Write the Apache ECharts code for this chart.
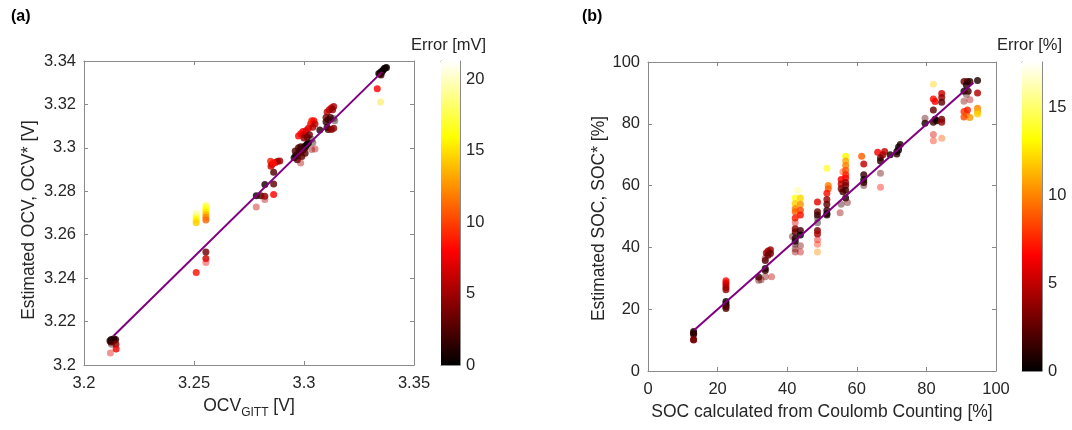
<!DOCTYPE html>
<html>
<head>
<meta charset="utf-8">
<script src="https://cdn.jsdelivr.net/npm/echarts@6/dist/echarts.min.js"></script>
<style>
html,body{margin:0;padding:0;background:#fff;}
#chart{width:1072px;height:430px;}
</style>
</head>
<body>
<div id="chart"></div>
<script>
// ---------- DATA ----------
// Panel (a): [OCV_GITT (V), estimated OCV* (V), error (mV)]
const ocvSolid = [
  [3.2118,3.2112,0.6],[3.2124,3.2118,0.6],[3.2130,3.2110,1.5],[3.2138,3.2113,1.8],[3.2144,3.2117,2.0],
  [3.2122,3.2106,1.6],[3.2135,3.2121,1.0],[3.2145,3.2095,4.5],[3.2146,3.2074,7.5],
  [3.2510,3.2695,18.5],[3.2510,3.2685,17.5],[3.2510,3.2675,16.5],[3.2510,3.2665,15.5],[3.2510,3.2655,14.5],[3.2510,3.2426,8.5],
  [3.2554,3.2733,17.5],[3.2554,3.2722,16.8],[3.2554,3.2712,16.0],[3.2554,3.2702,15.0],[3.2554,3.2692,13.8],
  [3.2554,3.2680,12.2],[3.2554,3.2668,11.2],[3.2554,3.2520,3.5],[3.2554,3.2490,6.5],
  [3.2783,3.2780,0.5],[3.2822,3.2831,0.9],[3.2804,3.2780,2.5],[3.2822,3.2777,4.5],[3.2862,3.2785,8.0],
  [3.2862,3.2834,3.0],[3.2862,3.2888,2.5],
  [3.2848,3.2938,9.0],[3.2855,3.2925,7.5],[3.2870,3.2932,6.5],[3.2880,3.2938,6.0],[3.2890,3.2940,5.0],
  [3.2850,3.2915,6.5],[3.2860,3.2930,8.5],
  [3.2955,3.2955,0.3],[3.2962,3.2965,0.4],[3.2970,3.2962,0.8],[3.2975,3.2978,0.4],[3.2980,3.2986,0.6],
  [3.2986,3.2980,0.7],[3.2990,3.2995,0.5],[3.2995,3.2990,0.6],[3.3000,3.3005,0.5],[3.3005,3.3000,0.6],
  [3.3010,3.3012,0.3],[3.3015,3.3018,0.4],[3.3020,3.3022,0.3],
  [3.2960,3.2985,2.5],[3.2975,3.3000,2.5],[3.2985,3.3005,2.0],[3.2970,3.2945,2.5],[3.2990,3.2960,3.0],[3.3005,3.2975,3.0],
  [3.2975,3.3055,8.0],[3.2985,3.3065,8.0],[3.2995,3.3075,8.0],[3.3000,3.3060,6.0],[3.3010,3.3080,7.0],
  [3.3020,3.3090,7.0],[3.3030,3.3110,8.0],[3.3035,3.3125,9.0],[3.3045,3.3125,8.0],[3.3050,3.3110,6.0],
  [3.3040,3.3095,5.5],[3.3000,3.3045,4.5],[3.3015,3.3050,3.5],[3.3025,3.3060,3.5],
  [3.3072,3.3082,1.0],
  [3.3105,3.3165,6.0],[3.3115,3.3175,6.0],[3.3125,3.3185,6.0],[3.3135,3.3190,5.5],[3.3130,3.3175,4.5],
  [3.3100,3.3140,4.0],[3.3110,3.3130,2.0],[3.3100,3.3120,2.0],[3.3120,3.3140,2.0],[3.3105,3.3095,1.0],
  [3.3110,3.3085,2.5],[3.3125,3.3085,4.0],[3.3135,3.3090,4.5],
  [3.3345,3.3340,0.5],[3.3350,3.3345,0.5],[3.3355,3.3352,0.3],[3.3360,3.3358,0.2],[3.3365,3.3365,0.2],
  [3.3370,3.3368,0.3],[3.3375,3.3370,0.5],[3.3350,3.3350,0.2],[3.3340,3.3342,0.3],[3.3350,3.3335,2.0],
  [3.3333,3.3272,8.0]
];
const ocvFaded = [
  [3.2125,3.2095,2.5],[3.2120,3.2055,7.0],[3.2510,3.2705,20.5],[3.2554,3.2472,8.0],
  [3.2822,3.2762,5.5],[3.2783,3.2728,6.0],[3.2985,3.2930,5.5],[3.3035,3.2993,4.5],[3.3050,3.2995,5.5],
  [3.3040,3.3025,1.5],[3.3035,3.3040,1.0],[3.3135,3.3135,0.5],[3.3140,3.3125,1.5],[3.3348,3.3211,15.0]
];
const ocvLine = [[3.2135,3.2135],[3.3355,3.3350]];
const ocvErrMax = 21.3;

// Panel (b): [SOC from Coulomb counting (%), estimated SOC* (%), error (%)]
const socSolid = [
  [13.1,12.8,0.3],[13.1,12.2,0.9],[13.1,11.8,1.3],[13.1,10.2,3.0],[13.1,10.0,3.1],
  [22.4,29.2,6.8],[22.4,28.5,6.1],[22.4,27.8,5.4],[22.4,27.0,4.6],[22.4,26.3,3.9],[22.4,22.5,0.2],
  [22.4,21.8,0.6],[22.4,21.2,1.2],[22.4,20.8,1.6],[22.4,20.2,2.2],
  [31.8,30.4,1.4],[33.7,33.2,0.5],[33.7,32.5,1.2],[33.7,35.8,2.1],[34.0,38.2,4.2],[34.5,38.8,4.3],
  [35.2,39.2,4.0],[35.2,38.0,2.8],[34.5,37.5,3.0],
  [42.3,56.0,13.7],[43.8,56.0,12.2],[42.3,54.2,12.0],[42.3,52.5,10.0],[42.3,51.5,9.2],[43.8,54.0,10.5],
  [43.8,52.0,8.5],[43.8,50.5,7.0],[42.3,49.5,7.2],[42.3,46.0,3.7],[42.3,45.0,2.7],[43.8,45.5,1.7],
  [43.8,44.0,0.2],[42.3,43.0,0.7],[42.3,42.0,0.3],
  [48.7,54.7,6.0],[48.7,51.5,2.8],[48.7,50.5,1.8],[48.7,45.5,3.2],[48.7,44.3,4.4],
  [51.4,65.6,14.2],[51.8,60.0,10.0],[51.8,59.0,9.0],[51.4,57.5,7.0],[51.4,55.5,4.0],[51.4,54.0,2.6],
  [51.4,52.0,1.5],[51.4,51.0,0.4],[51.4,50.5,0.9],
  [56.8,69.5,13.0],[56.8,68.0,11.0],[56.8,66.5,10.0],[56.8,65.0,9.0],[56.8,63.5,7.5],[56.8,62.5,6.7],
  [55.5,62.0,6.5],[55.5,60.5,5.0],[56.8,61.0,4.2],[56.8,60.0,3.2],[55.5,59.0,3.5],[56.8,58.5,1.7],
  [56.0,58.0,2.0],[56.8,56.0,0.8],
  [61.4,69.5,9.0],[62.0,67.0,5.0],[62.0,63.5,1.5],[62.0,62.0,0.5],[62.0,61.0,1.0],
  [66.0,70.8,6.5],[68.0,71.0,5.0],[67.5,70.0,4.5],[66.8,69.0,3.0],[66.8,68.0,1.2],
  [69.6,70.0,0.4],[71.5,70.2,1.3],[72.0,71.5,0.5],[72.0,72.5,0.5],[72.5,73.3,0.8],[71.5,71.0,0.5],
  [79.6,80.2,0.6],
  [82.0,88.0,7.0],[82.5,87.2,6.5],[82.0,84.5,2.5],[82.5,81.5,1.0],[82.0,80.5,1.5],[83.0,81.0,0.3],
  [84.4,89.8,5.4],[84.4,88.5,4.1],[84.4,87.0,2.6],[84.4,81.5,2.9],[84.4,80.5,3.9],
  [90.8,93.7,2.9],[91.8,93.7,1.9],[92.5,93.7,1.2],[91.5,92.5,1.0],[90.8,90.5,0.3],[92.0,90.5,1.5],
  [90.8,84.0,8.0],[91.5,83.0,9.0],[92.5,82.0,10.5],[90.8,82.2,8.6],[91.8,84.5,7.3],
  [94.7,94.0,0.7],[94.7,90.0,4.7],[94.7,85.0,10.0],[94.7,84.0,11.0],[94.7,83.2,12.0]
];
const socFaded = [
  [31.8,29.4,2.4],[33.7,30.5,3.2],[33.7,36.5,2.8],[35.5,30.5,5.0],[32.5,29.5,3.0],
  [43.0,58.5,15.5],[42.3,48.0,5.7],[42.3,41.0,1.3],[41.5,43.5,2.0],[42.3,39.5,2.8],[42.3,38.5,3.8],
  [43.8,38.5,5.0],[43.8,40.5,3.3],
  [48.7,49.5,0.8],[48.7,48.0,0.7],[48.7,42.5,6.2],[48.7,41.0,7.7],[48.7,38.5,10.2],
  [56.0,64.5,8.0],[55.5,54.0,1.5],[57.3,54.5,2.8],[55.2,51.2,4.0],
  [62.0,60.0,2.0],[66.8,64.0,2.8],[66.8,59.5,7.0],
  [79.6,81.8,2.2],[82.0,92.8,12.0],[82.0,76.5,5.5],[82.0,74.5,7.5],[84.4,75.3,9.0],
  [91.5,89.5,2.0],[90.8,87.3,3.5],[92.5,87.8,4.7]
];
const socLine = [[13.3,13.3],[93.5,93.3]];
const socErrMax = 17.6;

// colour map ("hot") and tick labels
const hotColors = ['#000000','#550000','#aa0000','#ff0000','#ff5500','#ffaa00','#ffff00','#ffff80','#ffffff'];
const ocvErrTicks = [0,5,10,15,20];
const socErrTicks = [0,5,10,15];

// ---------- CHART ----------
const FONT = "'Liberation Sans', Arial, sans-serif";
const TXT = '#262626';
const LINE = '#8a8a8a';
const TICK_FS = 16.5;
const NAME_FS = 17.5;
const chart = echarts.init(document.getElementById('chart'), null, {renderer:'canvas'});

const gradStops = hotColors.map((c,i)=>({offset:i/(hotColors.length-1), color:c}));
const gradient = new echarts.graphic.LinearGradient(0,1,0,0, gradStops);

function mainX(grid, min, max, interval, name, extra) {
  return [
    Object.assign({
      type:'value', gridIndex:grid, position:'bottom', min, max, interval,
      name, nameLocation:'middle', nameGap:30,
      nameTextStyle:{color:TXT, fontSize:NAME_FS, fontFamily:FONT},
      axisLine:{show:true, onZero:false, lineStyle:{color:LINE, width:1}},
      axisTick:{show:true, inside:true, length:4, lineStyle:{color:LINE}},
      axisLabel:{color:TXT, fontSize:TICK_FS, fontFamily:FONT, margin:10},
      splitLine:{show:false}
    }, extra||{}),
    {
      type:'value', gridIndex:grid, position:'top', min, max, interval,
      axisLine:{show:true, onZero:false, lineStyle:{color:LINE, width:1}},
      axisTick:{show:true, inside:true, length:4, lineStyle:{color:LINE}},
      axisLabel:{show:false}, splitLine:{show:false}
    }
  ];
}
function mainY(grid, min, max, interval, name, gap, pad) {
  return [
    {
      type:'value', gridIndex:grid, position:'left', min, max, interval,
      name, nameLocation:'middle', nameGap:gap,
      nameTextStyle:{color:TXT, fontSize:NAME_FS, fontFamily:FONT, padding:pad},
      axisLine:{show:true, onZero:false, lineStyle:{color:LINE, width:1}},
      axisTick:{show:true, inside:true, length:4, lineStyle:{color:LINE}},
      axisLabel:{color:TXT, fontSize:TICK_FS, fontFamily:FONT, margin:8},
      splitLine:{show:false}
    },
    {
      type:'value', gridIndex:grid, position:'right', min, max, interval,
      axisLine:{show:true, onZero:false, lineStyle:{color:LINE, width:1}},
      axisTick:{show:true, inside:true, length:4, lineStyle:{color:LINE}},
      axisLabel:{show:false}, splitLine:{show:false}
    }
  ];
}
function cbX(grid) {
  const base = {type:'category', gridIndex:grid, data:['c'],
    axisLine:{show:true, onZero:false, lineStyle:{color:LINE, width:1}},
    axisTick:{show:false}, axisLabel:{show:false}, splitLine:{show:false}};
  return [Object.assign({position:'bottom'}, base), Object.assign({position:'top'}, base)];
}
function cbY(grid, max, ticks) {
  return [
    {
      type:'value', gridIndex:grid, position:'right', min:0, max,
      axisLine:{show:true, onZero:false, lineStyle:{color:LINE, width:1}},
      axisTick:{show:true, inside:true, length:4, customValues:ticks, lineStyle:{color:LINE}},
      axisLabel:{color:TXT, fontSize:TICK_FS, fontFamily:FONT, margin:6, customValues:ticks},
      splitLine:{show:false}
    },
    {
      type:'value', gridIndex:grid, position:'left', min:0, max,
      axisLine:{show:true, onZero:false, lineStyle:{color:LINE, width:1}},
      axisTick:{show:false}, axisLabel:{show:false}, splitLine:{show:false}
    }
  ];
}

const ocvXName = '{n|OCV}{s|GITT}{n| [V]}';

const option = {
  animation:false,
  backgroundColor:'#ffffff',
  textStyle:{fontFamily:FONT},
  title:[
    {text:'(a)', left:11, top:9, padding:0, textStyle:{fontSize:16, fontWeight:'bold', color:'#000', fontFamily:FONT}},
    {text:'(b)', left:582, top:9, padding:0, textStyle:{fontSize:16, fontWeight:'bold', color:'#000', fontFamily:FONT}},
    {text:'Error [mV]', left:411, top:37, padding:0, textStyle:{fontSize:TICK_FS, fontWeight:'normal', color:TXT, fontFamily:FONT}},
    {text:'Error [%]', left:997, top:37, padding:0, textStyle:{fontSize:TICK_FS, fontWeight:'normal', color:TXT, fontFamily:FONT}}
  ],
  grid:[
    {left:84, top:61, width:330, height:304, containLabel:false},
    {left:648, top:62, width:348, height:309, containLabel:false},
    {left:441, top:61, width:19, height:304, containLabel:false},
    {left:1022, top:62, width:20, height:309, containLabel:false}
  ],
  xAxis:[].concat(
    mainX(0, 3.2, 3.35, 0.05, ocvXName, {
      nameGap:28,
      nameTextStyle:{color:TXT, fontFamily:FONT,
        rich:{
          n:{fontSize:NAME_FS, color:TXT, fontFamily:FONT},
          s:{fontSize:12, color:TXT, fontFamily:FONT, padding:[14,0,0,0]}
        }}
    }),
    mainX(1, 0, 100, 20, 'SOC calculated from Coulomb Counting [%]'),
    cbX(2), cbX(3)
  ),
  yAxis:[].concat(
    mainY(0, 3.2, 3.34, 0.02, 'Estimated OCV, OCV* [V]', 46, [0,14,0,0]),
    mainY(1, 0, 100, 20, 'Estimated SOC, SOC* [%]', 40, [0,4,0,0]),
    cbY(2, ocvErrMax, ocvErrTicks),
    cbY(3, socErrMax, socErrTicks)
  ),
  visualMap:[
    {type:'continuous', show:false, seriesIndex:[0,1], dimension:2, min:0, max:ocvErrMax, inRange:{color:hotColors}},
    {type:'continuous', show:false, seriesIndex:[3,4], dimension:2, min:0, max:socErrMax, inRange:{color:hotColors}}
  ],
  series:[
    {type:'scatter', xAxisIndex:0, yAxisIndex:0, data:ocvSolid, symbolSize:7, itemStyle:{opacity:0.82}, silent:true},
    {type:'scatter', xAxisIndex:0, yAxisIndex:0, data:ocvFaded, symbolSize:7, itemStyle:{opacity:0.42}, silent:true},
    {type:'line', xAxisIndex:0, yAxisIndex:0, data:ocvLine, symbol:'none', lineStyle:{color:'#800080', width:2}, silent:true, z:5},
    {type:'scatter', xAxisIndex:2, yAxisIndex:2, data:socSolid, symbolSize:7, itemStyle:{opacity:0.82}, silent:true},
    {type:'scatter', xAxisIndex:2, yAxisIndex:2, data:socFaded, symbolSize:7, itemStyle:{opacity:0.42}, silent:true},
    {type:'line', xAxisIndex:2, yAxisIndex:2, data:socLine, symbol:'none', lineStyle:{color:'#800080', width:2}, silent:true, z:5},
    {type:'bar', xAxisIndex:4, yAxisIndex:4, data:[ocvErrMax], barWidth:'100%', itemStyle:{color:gradient}, silent:true, z:1},
    {type:'bar', xAxisIndex:6, yAxisIndex:6, data:[socErrMax], barWidth:'100%', itemStyle:{color:gradient}, silent:true, z:1}
  ]
};
chart.setOption(option);
</script>
</body>
</html>
